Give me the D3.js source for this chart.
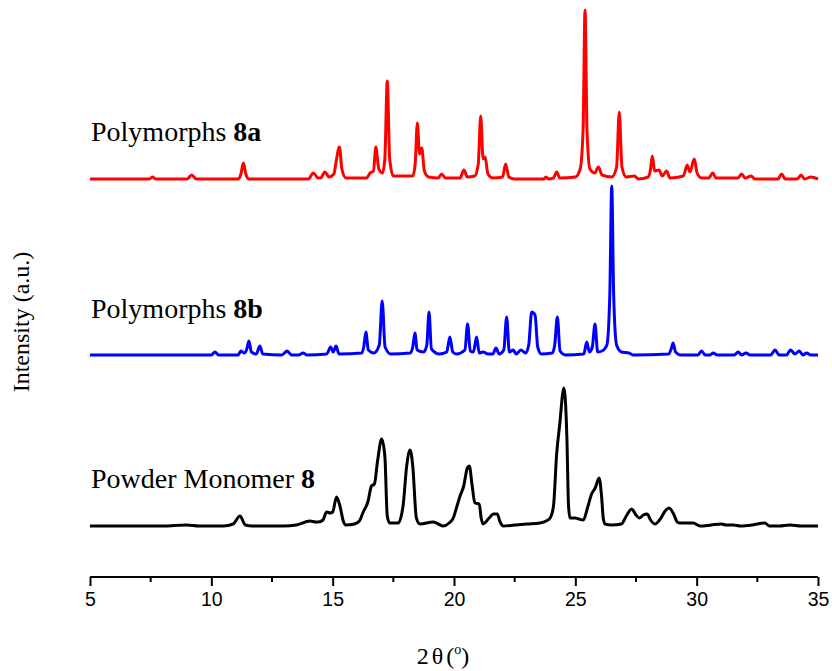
<!DOCTYPE html>
<html>
<head>
<meta charset="utf-8">
<script src="https://cdn.jsdelivr.net/npm/d3@7/dist/d3.min.js"></script>
<style>
  html, body { margin: 0; padding: 0; background: #fff; }
  svg { display: block; }
</style>
</head>
<body>
<svg id="chart" width="832" height="671"></svg>
<script>
// Powder X-ray diffraction patterns, intensity (a.u.) vs 2θ (degrees)

const xTicks = [5, 10, 15, 20, 25, 30, 35];
const xMinorTicks = [7.5, 12.5, 17.5, 22.5, 27.5, 32.5];

// Polymorphs 8a
const polymorph8a = [
  [5,0],[7.45,0],[7.58,2],[7.7,0],[9.0,0],[9.19,4],[9.38,0],[11.1,0],[11.22,5],[11.32,16],[11.42,5],[11.55,0],
  [14.0,0],[14.2,6],[14.4,1],[14.5,1],[14.68,7],[14.85,2],[15.05,5],[15.14,17],[15.28,32],[15.38,10],[15.55,1],
  [16.4,1],[16.54,6],[16.68,8],[16.78,32],[16.9,10],[17.05,6],[17.15,20],[17.25,98],[17.35,20],[17.5,3],
  [18.3,3],[18.4,15],[18.49,56],[18.58,25],[18.67,31],[18.78,8],[18.95,2],[19.35,1],[19.49,5],[19.65,1],
  [20.25,1],[20.41,9],[20.55,2],[20.85,3],[21.0,15],[21.1,63],[21.2,20],[21.28,22],[21.4,5],[21.6,1],
  [22.0,2],[22.13,15],[22.26,2],[22.5,0],[23.7,0],[23.79,2],[23.9,0],[24.1,1],[24.23,7],[24.36,1],
  [25.0,2],[25.2,10],[25.32,50],[25.4,169],[25.48,50],[25.6,10],[25.8,6],[25.95,12],[26.1,4],[26.5,2],
  [26.7,12],[26.81,67],[26.92,12],[27.1,2],[27.43,3],[27.6,0],[28.0,2],[28.1,10],[28.17,23],[28.27,8],
  [28.45,9],[28.58,3],[28.76,8],[28.9,1],[29.45,3],[29.61,14],[29.72,7],[29.9,20],[30.02,6],[30.2,1],
  [30.5,1],[30.66,6],[30.8,1],[31.7,1],[31.85,5],[32.0,1],[32.24,3],[32.4,0],[33.35,0],[33.5,5],[33.65,0],
  [34.15,0],[34.3,4],[34.45,0],[34.7,2],[35,0]
];

// Polymorphs 8b
const polymorph8b = [
  [5,0],[10.0,0],[10.15,3],[10.3,0],[11.1,0],[11.22,4],[11.35,2],[11.45,5],[11.55,14],[11.65,3],[11.85,1],
  [12.0,9],[12.12,1],[12.9,0],[13.13,4],[13.3,0],[13.6,0],[13.78,2],[13.95,0],[14.75,1],[14.92,8],[15.02,3],
  [15.14,9],[15.26,1],[16.2,2],[16.28,8],[16.37,23],[16.47,5],[16.7,2],[16.92,10],[17.04,54],[17.16,8],
  [17.4,1],[18.2,2],[18.3,8],[18.39,22],[18.48,5],[18.75,3],[18.88,10],[18.97,43],[19.07,6],[19.4,1],
  [19.7,3],[19.83,18],[19.95,3],[20.1,1],[20.45,5],[20.56,31],[20.67,4],[20.8,3],[20.93,18],[21.04,2],
  [21.2,3],[21.4,1],[21.6,1],[21.73,7],[21.86,1],[22.05,5],[22.17,38],[22.28,3],[22.44,5],[22.56,1],
  [22.76,5],[22.95,2],[23.08,10],[23.2,43],[23.34,40],[23.45,8],[23.6,1],[24.05,2],[24.15,10],[24.26,38],
  [24.37,4],[24.6,0],[25.35,1],[25.47,13],[25.58,3],[25.7,8],[25.81,31],[25.92,3],[26.1,4],[26.3,10],
  [26.42,60],[26.5,169],[26.58,60],[26.7,10],[26.9,3],[27.21,2],[27.4,0],[28.85,1],[28.95,6],[29.03,12],
  [29.13,3],[29.35,0],[30.05,0],[30.2,4],[30.35,0],[30.55,0],[30.68,2],[30.85,0],[31.55,0],[31.71,3],
  [31.85,0],[32.03,2],[32.2,0],[33.05,0],[33.23,5],[33.4,0],[33.7,0],[33.87,5],[34.05,1],[34.23,4],
  [34.38,0],[34.53,2],[34.7,0],[35,0]
];

// Powder Monomer 8
const monomer8 = [
  [5,0],[6.5,0],[8.0,0],[8.98,1],[9.5,0],[10.5,0],[10.9,2],[11.18,10],[11.4,1],[11.7,0],[13.0,0],[13.5,1],
  [14.07,5],[14.3,4],[14.41,4],[14.6,6],[14.75,14],[14.9,13],[15.0,14],[15.16,29],[15.3,20],[15.45,4],
  [15.55,1],[15.9,2],[16.1,5],[16.26,14],[16.45,24],[16.6,40],[16.72,42],[16.85,65],[17.02,87],[17.15,70],
  [17.25,10],[17.35,3],[17.7,3],[17.9,20],[18.05,60],[18.19,76],[18.3,60],[18.45,8],[18.6,2],[19.14,4],
  [19.35,2],[19.56,0],[19.8,3],[19.97,8],[20.1,18],[20.25,30],[20.4,40],[20.55,58],[20.63,60],[20.75,40],
  [20.86,23],[21.04,22],[21.12,8],[21.2,2],[21.45,8],[21.62,12],[21.78,12],[21.9,4],[22.03,0],[22.5,1],
  [23.0,2],[23.54,3],[23.8,5],[23.96,8],[24.1,20],[24.23,72],[24.35,100],[24.53,138],[24.65,90],[24.72,20],
  [24.78,8],[25.0,8],[25.15,7],[25.33,6],[25.5,18],[25.67,32],[25.82,38],[25.98,48],[26.08,30],[26.15,8],
  [26.22,2],[26.5,1],[26.9,2],[27.1,10],[27.32,17],[27.5,11],[27.64,8],[27.8,11],[27.96,12],[28.1,6],
  [28.28,2],[28.5,7],[28.7,15],[28.87,18],[29.05,12],[29.2,4],[29.31,3],[29.6,3],[29.86,3],[30.14,0],
  [30.6,1],[31.03,2],[31.2,1],[31.51,1],[31.8,0],[32.3,1],[32.81,3],[33.0,0],[33.4,0],[33.84,1],[34.3,0],[35,0]
];

// Vertical offsets used to stack the patterns (a.u.)
const seriesNames = ["Powder Monomer ", "Polymorphs ", "Polymorphs "];
const seriesBold = ["8", "8b", "8a"];
const seriesOffsets = [51, 222, 398];
const seriesColors = ["#000000", "#0000ff", "#ff0000"];
const seriesData = [monomer8, polymorph8b, polymorph8a];

const svg = d3.select("#chart");
const margin = { left: 90, right: 14, top: 0, bottom: 94 };
const W = 832, H = 671;
const plotBottom = H - margin.bottom;

const x = d3.scaleLinear().domain([5, 35]).range([margin.left, W - margin.right]);
const y = d3.scaleLinear().domain([0, plotBottom - margin.top]).range([plotBottom, margin.top]);

const line = d3.line()
  .x(d => x(d[0]))
  .y(d => y(d[1]))
  .curve(d3.curveMonotoneX);

seriesData.forEach((data, i) => {
  const off = seriesOffsets[i];
  svg.append("path")
    .datum(data.map(d => [d[0], d[1] + off]))
    .attr("fill", "none")
    .attr("stroke", seriesColors[i])
    .attr("stroke-width", 3)
    .attr("stroke-linejoin", "round")
    .attr("d", line);
});

// Series labels
const labelY = [488, 318, 141];
seriesData.forEach((data, i) => {
  const t = svg.append("text")
    .attr("x", x(5) + 1)
    .attr("y", labelY[i])
    .attr("font-family", "'Liberation Serif', 'Times New Roman', serif")
    .attr("font-size", 28)
    .attr("fill", "#000");
  t.append("tspan").text(seriesNames[i]);
  t.append("tspan").attr("font-weight", "bold").text(seriesBold[i]);
});

// Bottom axis
const axis = d3.axisBottom(x).tickValues(xTicks).tickSize(9).tickPadding(6).tickFormat(d3.format("d"));
const gx = svg.append("g").attr("transform", `translate(0,${plotBottom})`).call(axis);
gx.select(".domain").attr("stroke-width", 2).attr("d", `M${x(5)},0H${x(35)}`);
gx.selectAll(".tick line").attr("stroke-width", 2);
gx.selectAll(".tick text")
  .attr("font-family", "'Liberation Sans', Arial, sans-serif")
  .attr("font-size", 19.5)
  .attr("fill", "#000");

gx.selectAll(".minor")
  .data(xMinorTicks)
  .enter().append("line")
  .attr("x1", d => x(d)).attr("x2", d => x(d))
  .attr("y1", 0).attr("y2", 5)
  .attr("stroke", "#000").attr("stroke-width", 2);

// Axis titles
const xt = svg.append("text")
  .attr("x", 443)
  .attr("y", 664)
  .attr("text-anchor", "middle")
  .attr("font-family", "'Liberation Serif', 'Times New Roman', serif")
  .attr("font-size", 24)
  .attr("fill", "#000");
xt.append("tspan").text("2");
xt.append("tspan").attr("dx", 3).text("θ");
xt.append("tspan").attr("dx", 3).text("(");
xt.append("tspan").attr("font-size", 14).attr("dy", -10).text("o");
xt.append("tspan").attr("dy", 10).text(")");

svg.append("text")
  .attr("transform", `translate(29,${322}) rotate(-90)`)
  .attr("text-anchor", "middle")
  .attr("font-family", "'Liberation Serif', 'Times New Roman', serif")
  .attr("font-size", 24)
  .attr("fill", "#000")
  .text("Intensity (a.u.)");
</script>
</body>
</html>
